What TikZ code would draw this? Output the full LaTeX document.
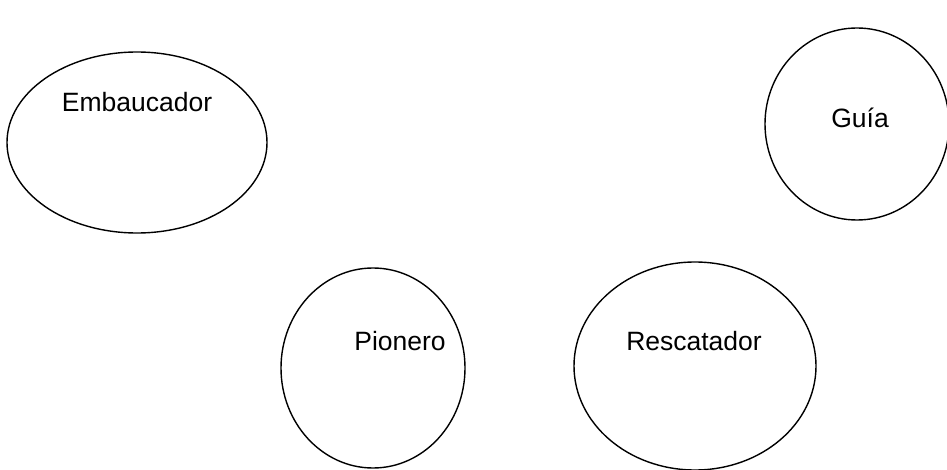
\documentclass[tikz,border=0pt]{standalone}
\usepackage{fontspec}
\setmainfont{Liberation Sans}
\usetikzlibrary{positioning}
\usetikzlibrary{shapes.geometric}

\begin{document}
\begin{tikzpicture}[x=1pt,y=-1pt,
                    role node/.style={ellipse,draw,line width=1.4pt,inner sep=0pt},
                    role text/.style={font=\fontsize{26.5}{30}\selectfont,inner sep=0pt}]
      \useasboundingbox (0,0) rectangle (947,470);

      \node[role node, minimum width=260pt, minimum height=181pt] (embaucador) at (137,142.5) {};
      \node[role node, minimum width=184pt, minimum height=192pt] (guia) at (857,124) {};
      \node[role node, minimum width=184pt, minimum height=200pt] (pionero) at (373,368) {};
      \node[role node, minimum width=242pt, minimum height=208pt] (rescatador) at (695,366) {};

      \node[role text] (t1) at (137,102) {Embaucador};
      \node[role text] (t2) at (860,118) {Guía};
      \node[role text] (t3) at (400,341) {Pionero};
      \node[role text] (t4) at (694,341) {Rescatador};

\end{tikzpicture}
\end{document}
